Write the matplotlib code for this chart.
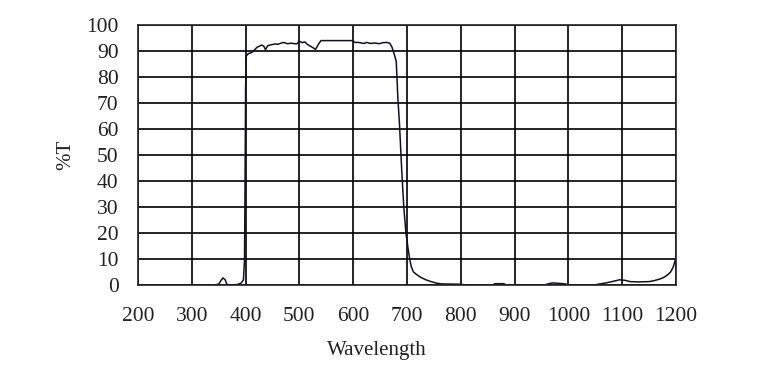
import numpy as np
import matplotlib
matplotlib.use('Agg')
import matplotlib.pyplot as plt

# Transmission curve (wavelength in nm, %T)
wavelength = [200, 340, 350, 355, 358, 362, 365, 370, 385, 392, 396, 398, 399,
              400, 401, 405, 410, 414, 421, 430, 434, 437, 441, 445, 455, 460,
              470, 478, 485, 495, 500, 505, 510, 515, 525, 530, 535, 540, 560,
              580, 600, 602, 610, 620, 625, 632, 640, 648, 655, 662, 668, 672,
              676, 680, 683, 686, 690, 694, 698, 702, 705, 708, 712, 718, 725,
              735, 745, 755, 765, 800, 810, 860, 863, 880, 884, 955, 962, 970,
              985, 995, 998, 1050, 1055, 1070, 1085, 1095, 1105, 1115, 1130,
              1150, 1160, 1170, 1178, 1185, 1190, 1195, 1200]
transmission = [0, 0, 0.3, 2.0, 2.7, 2.0, 0.3, 0, 0.2, 0.8, 2, 10, 40,
                75, 88, 89, 89.3, 89.8, 91.4, 92.3, 91.8, 90.5, 92.0, 92.3, 92.7, 92.6,
                93.3, 92.8, 93.0, 92.7, 93.8, 93.2, 93.5, 92.5, 91.3, 90.6, 92.5, 94.0, 94.0,
                94.0, 94.0, 93.3, 93.3, 92.9, 93.3, 92.9, 93.1, 92.8, 93.2, 93.3, 93.0, 91.5,
                89, 86, 72, 62, 45, 30, 20, 14, 10, 7, 5, 4, 3,
                2, 1.3, 0.7, 0.4, 0.3, 0, 0, 0.5, 0.5, 0, 0, 0.4, 0.8,
                0.6, 0.4, 0, 0, 0.3, 0.8, 1.5, 2.0, 1.8, 1.3, 1.2,
                1.3, 1.7, 2.3, 3, 4, 5, 7, 10.5]

x_ticks = list(range(200, 1201, 100))
y_ticks = list(range(0, 101, 10))

plt.rcParams['font.family'] = ['Liberation Serif', 'DejaVu Serif']

fig = plt.figure(figsize=(7.61, 3.85), dpi=100)
ax = fig.add_axes([138 / 761, 1 - 285 / 385, 538 / 761, 260 / 385])

ax.plot(wavelength, transmission, color='#111122', linewidth=1.1)

ax.set_xlim(200, 1200)
ax.set_ylim(0, 100)
ax.set_xticks(x_ticks)
ax.set_yticks(y_ticks)
ax.tick_params(axis='both', length=0, labelsize=15.5, colors='#222222')
ax.tick_params(axis='x', pad=16)
ax.tick_params(axis='y', pad=14)
ax.grid(True, color='black', linewidth=1.2)
ax.set_axisbelow(True)
for s in ax.spines.values():
    s.set_linewidth(1.2)
    s.set_color('#222222')

fig.text(377 / 761, 1 - 350 / 385, 'Wavelength', ha='center', va='center',
         fontsize=15, color='#222222')
fig.text(66 / 761, 1 - 155 / 385, '%T', ha='center', va='center',
         rotation=90, fontsize=15, color='#222222')

plt.savefig('out.png', dpi=100)
